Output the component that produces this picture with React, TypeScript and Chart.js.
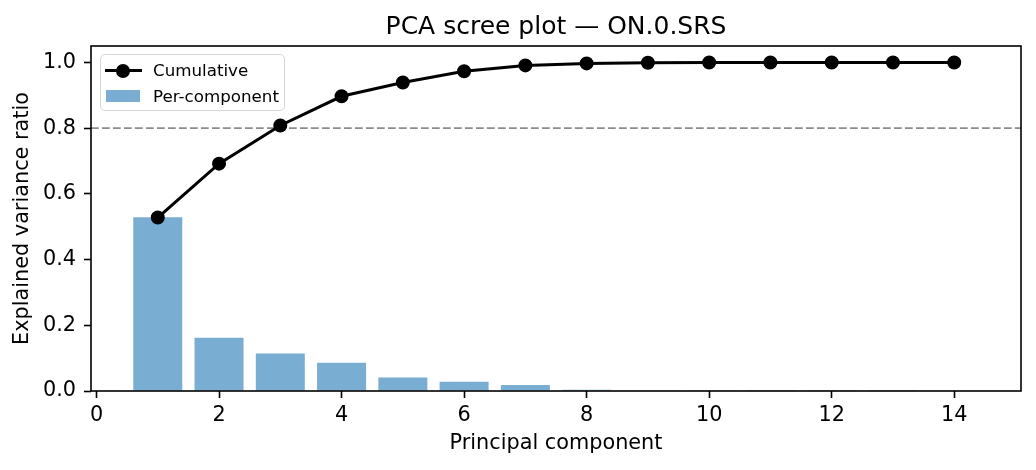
import { useEffect, useRef } from 'react'
import { Chart, registerables, type ChartConfiguration, type Plugin } from 'chart.js'
Chart.register(...registerables)

const TITLE = 'PCA scree plot — ON.0.SRS'
const X_LABEL = 'Principal component'
const Y_LABEL = 'Explained variance ratio'
const LEGEND_LINE = 'Cumulative'
const LEGEND_BAR = 'Per-component'

const COMPONENTS = [1, 2, 3, 4, 5, 6, 7, 8, 9, 10, 11, 12, 13, 14]
const PER_COMPONENT = [0.529, 0.162, 0.114, 0.086, 0.041, 0.028, 0.018, 0.004, 0.0012, 0.0006, 0.0003, 0.0002, 0.0001, 0.0]
const CUMULATIVE = [0.528, 0.692, 0.808, 0.897, 0.939, 0.973, 0.991, 0.997, 0.999, 1.0, 1.0, 1.0, 1.0, 1.0]
const THRESHOLD = 0.8

const X_TICKS = [0, 2, 4, 6, 8, 10, 12, 14]
const Y_TICKS = [0, 0.2, 0.4, 0.6, 0.8, 1.0]
const X_MIN = -0.09
const X_MAX = 15.09
const Y_MAX = 1.05

const FONT = '"DejaVu Sans", sans-serif'
const BAR_COLOR = 'rgba(31,119,180,0.6)'

const framePlugin: Plugin<'bar'> = {
  id: 'frame',
  beforeDatasetsDraw(chart) {
    const { ctx, chartArea: a, scales } = chart
    const y = scales.y.getPixelForValue(THRESHOLD)
    ctx.save()
    ctx.strokeStyle = '#8c8c8c'
    ctx.lineWidth = 1.7
    ctx.setLineDash([7.7, 3.3])
    ctx.beginPath()
    ctx.moveTo(a.left, y)
    ctx.lineTo(a.right, y)
    ctx.stroke()
    ctx.restore()
  },
  afterDatasetsDraw(chart) {
    const { ctx, chartArea: a } = chart
    ctx.save()
    ctx.strokeStyle = '#000'
    ctx.lineWidth = 1.6
    ctx.strokeRect(a.left, a.top, a.right - a.left, a.bottom - a.top)
    ctx.fillStyle = '#000'
    ctx.font = `25px ${FONT}`
    ctx.textAlign = 'center'
    ctx.textBaseline = 'alphabetic'
    ctx.fillText(TITLE, (a.left + a.right) / 2, 34)
    ctx.restore()
  },
}

function ScreePlot() {
  const ref = useRef<HTMLCanvasElement>(null)
  const chartRef = useRef<Chart | null>(null)

  useEffect(() => {
    if (!ref.current) return
    chartRef.current?.destroy()
    const tickFont = { family: FONT, size: 20.8 }
    const config: ChartConfiguration<'bar'> = {
      type: 'bar',
      data: {
        datasets: [
          {
            type: 'line' as any,
            label: LEGEND_LINE,
            data: COMPONENTS.map((c, i) => ({ x: c, y: CUMULATIVE[i] })),
            borderColor: '#000',
            borderWidth: 3,
            backgroundColor: '#000',
            pointRadius: 6.2,
            pointBorderWidth: 1.6,
            pointBackgroundColor: '#000',
            pointBorderColor: '#000',
            tension: 0,
            order: 0,
          } as any,
          {
            label: LEGEND_BAR,
            data: COMPONENTS.map((c, i) => ({ x: c, y: PER_COMPONENT[i] })) as any,
            backgroundColor: BAR_COLOR,
            borderWidth: 0,
            barPercentage: 1,
            categoryPercentage: 0.8,
            order: 1,
          },
        ],
      },
      options: {
        responsive: true,
        maintainAspectRatio: false,
        animation: false,
        events: [],
        layout: { padding: { top: 46, right: 15, left: 0, bottom: 0 } },
        plugins: {
          legend: { display: false },
          title: { display: false },
          tooltip: { enabled: false },
        },
        scales: {
          x: {
            type: 'linear',
            min: X_MIN,
            max: X_MAX,
            offset: false,
            afterBuildTicks: scale => { scale.ticks = X_TICKS.map(value => ({ value })) },
            afterFit: scale => { scale.height = 79 },
            border: { display: false },
            grid: {
              offset: false,
              drawOnChartArea: false,
              drawTicks: true,
              tickLength: 7,
              tickWidth: 1.6,
              tickColor: '#000',
            },
            ticks: {
              font: tickFont,
              color: '#000',
              padding: 5,
              maxRotation: 0,
              callback: v => String(v),
            },
            title: {
              display: true,
              text: X_LABEL,
              font: tickFont,
              color: '#000',
              padding: { top: 0, bottom: 14 },
            },
          },
          y: {
            type: 'linear',
            min: 0,
            max: Y_MAX,
            afterBuildTicks: scale => { scale.ticks = Y_TICKS.map(value => ({ value })) },
            afterFit: scale => { scale.width = 91 },
            border: { display: false },
            grid: {
              drawOnChartArea: false,
              drawTicks: true,
              tickLength: 7,
              tickWidth: 1.6,
              tickColor: '#000',
            },
            ticks: {
              font: tickFont,
              color: '#000',
              padding: 8,
              callback: v => Number(v).toFixed(1),
            },
            title: {
              display: true,
              text: Y_LABEL,
              font: tickFont,
              color: '#000',
              padding: { top: 10, bottom: 0 },
            },
          },
        },
      },
      plugins: [framePlugin],
    }
    chartRef.current = new Chart(ref.current, config)
    return () => chartRef.current?.destroy()
  }, [])

  const legendText = { position: 'absolute' as const, height: 22, lineHeight: '22px', whiteSpace: 'nowrap' as const }

  return (
    <div style={{ position: 'relative', width: 1036, height: 470, background: '#fff' }}>
      <canvas ref={ref} />
      <div style={{
        position: 'absolute', left: 100, top: 54, width: 185, height: 57, boxSizing: 'border-box',
        border: '1.5px solid #d6d6d6', borderRadius: 5, background: 'rgba(255,255,255,0.8)',
        fontFamily: FONT, fontSize: 16.7, color: '#000',
      }}>
        <span style={{ position: 'absolute', left: 4, top: 14, width: 37, height: 3, background: '#000' }} />
        <span style={{ position: 'absolute', left: 15, top: 8.5, width: 14, height: 14, borderRadius: '50%', background: '#000' }} />
        <span style={{ ...legendText, left: 52, top: 4 }}>{LEGEND_LINE}</span>
        <span style={{ position: 'absolute', left: 5, top: 34.5, width: 34, height: 12, background: BAR_COLOR }} />
        <span style={{ ...legendText, left: 52, top: 30 }}>{LEGEND_BAR}</span>
      </div>
    </div>
  )
}

export default function App() {
  useEffect(() => {
    document.body.style.margin = '0'
  }, [])
  return <ScreePlot />
}
